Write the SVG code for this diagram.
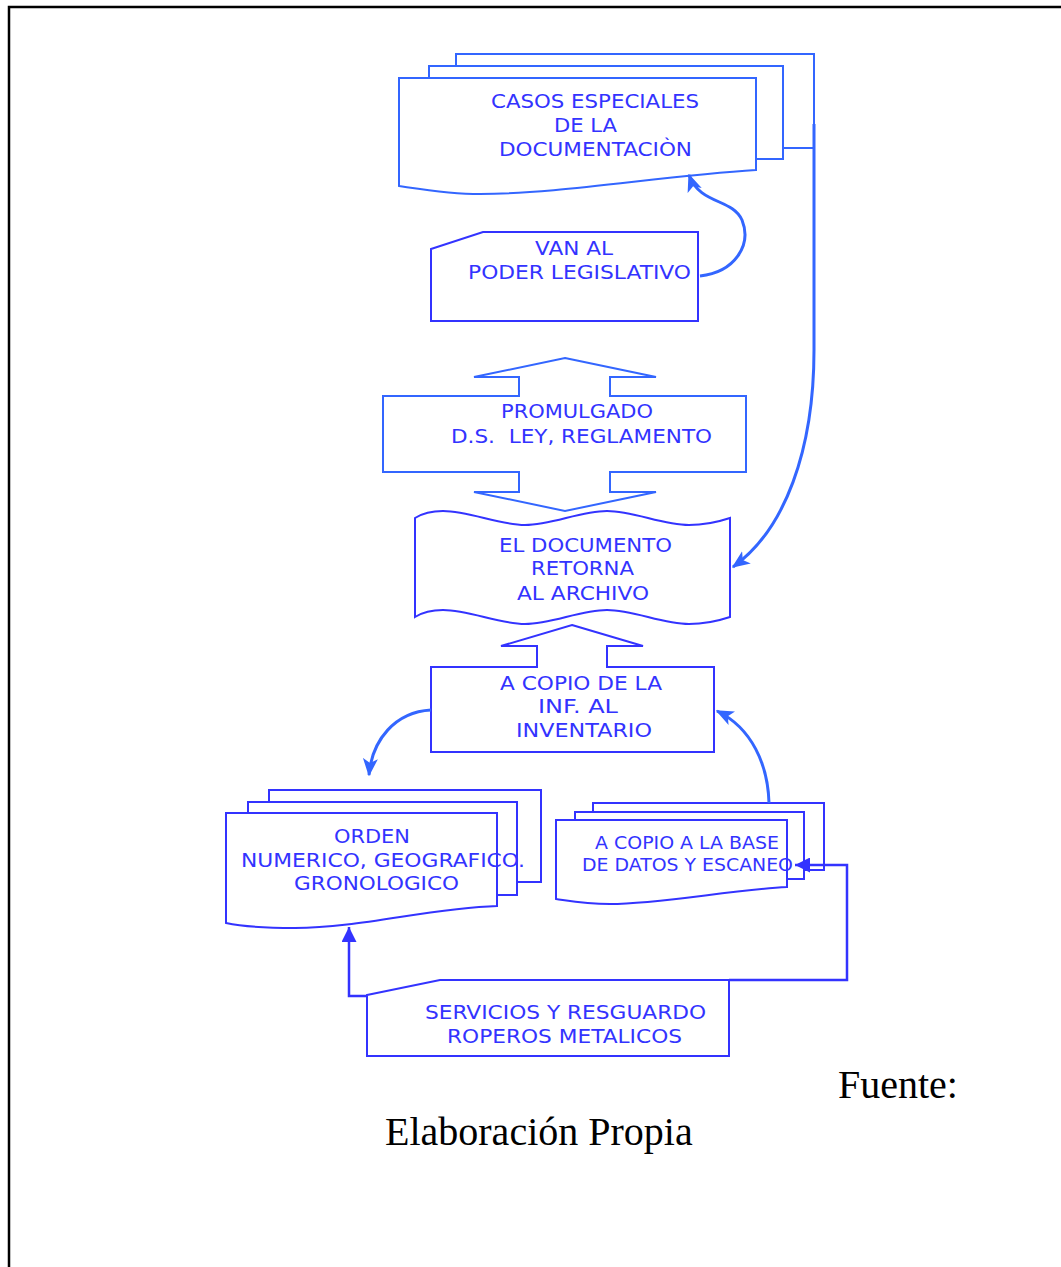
<svg xmlns="http://www.w3.org/2000/svg" width="1061" height="1267" viewBox="0 0 1061 1267">
  <style>
    .shape { fill: #ffffff; stroke: #3333ff; stroke-width: 2; stroke-linejoin: miter; }
    .shape2 { fill: #ffffff; stroke: #3366ff; stroke-width: 2; }
    .lbl { font-family: "DejaVu Sans", Verdana, sans-serif; font-size: 20px; fill: #3333ff; }
    .sm { font-size: 17px; }
    .curve { fill: none; stroke: #3366ff; stroke-width: 3; }
    .elbow { fill: none; stroke: #3333ff; stroke-width: 2.5; }
    .note { font-family: "Liberation Serif", "Times New Roman", serif; font-size: 40px; fill: #000000; }
  </style>
  <defs>
    <marker id="stealth" viewBox="0 0 12 10" refX="11" refY="5" markerWidth="6" markerHeight="5.5" orient="auto" markerUnits="strokeWidth">
      <path d="M0,0 L12,5 L0,10 L3,5 Z" fill="#3366ff"/>
    </marker>
    <marker id="tri" viewBox="0 0 10 10" refX="10" refY="5" markerWidth="6" markerHeight="6" orient="auto" markerUnits="strokeWidth">
      <path d="M0,0 L10,5 L0,10 Z" fill="#3333ff"/>
    </marker>
  </defs>

  <!-- page frame -->
  <rect x="9" y="7" width="1100" height="1300" fill="none" stroke="#000000" stroke-width="2.5"/>

  <!-- multi-document: special cases -->
  <g id="casos-especiales">
    <rect class="shape2" x="456" y="54" width="358" height="94"/>
    <rect class="shape2" x="429" y="66" width="354" height="93"/>
    <path class="shape2" d="M399,78 H756 V170 C 660,176 560,194 480,194 C 450,194 420,189 399,186 Z"/>
    <text class="lbl" x="491" y="108" textLength="208" lengthAdjust="spacingAndGlyphs">CASOS ESPECIALES</text>
    <text class="lbl" x="554" y="132" textLength="63" lengthAdjust="spacingAndGlyphs">DE LA</text>
    <text class="lbl" x="499" y="156" textLength="193" lengthAdjust="spacingAndGlyphs">DOCUMENTACIÒN</text>
  </g>

  <!-- card: legislative branch -->
  <g id="poder-legislativo">
    <path class="shape" d="M431,249 L483,232 H698 V321 H431 Z"/>
    <text class="lbl" x="535" y="255" textLength="78" lengthAdjust="spacingAndGlyphs">VAN AL</text>
    <text class="lbl" x="468" y="279" textLength="223" lengthAdjust="spacingAndGlyphs">PODER LEGISLATIVO</text>
  </g>

  <!-- up/down arrow box: promulgation -->
  <g id="promulgado">
    <path class="shape2" d="M565,358 L656,377 H610 V396 H746 V472 H610 V492 H656 L565,511 L474,492 H519 V472 H383 V396 H519 V377 H474 Z"/>
    <text class="lbl" x="501" y="418" textLength="152" lengthAdjust="spacingAndGlyphs">PROMULGADO</text>
    <text class="lbl" x="451" y="443" textLength="261" lengthAdjust="spacingAndGlyphs" xml:space="preserve">D.S.  LEY, REGLAMENTO</text>
  </g>

  <!-- punched tape: document returns -->
  <g id="retorna-archivo">
    <path class="shape" d="M415,518 C 423,513 433,511 443,511 C 470,511 498,525 525,525 C 552,525 580,511 607,511 C 634,511 662,525 689,525 C 703,525 718,522 730,518 V617 C 718,621 703,624 689,624 C 662,624 634,610 607,610 C 580,610 552,624 525,624 C 498,624 470,610 443,610 C 433,610 423,612 415,617 Z"/>
    <text class="lbl" x="499" y="552" textLength="173" lengthAdjust="spacingAndGlyphs">EL DOCUMENTO</text>
    <text class="lbl" x="531" y="575" textLength="103" lengthAdjust="spacingAndGlyphs">RETORNA</text>
    <text class="lbl" x="517" y="600" textLength="132" lengthAdjust="spacingAndGlyphs">AL ARCHIVO</text>
  </g>

  <!-- up arrow box: inventory copy -->
  <g id="copio-inventario">
    <path class="shape" d="M572,625 L643,646 H607 V667 H714 V752 H431 V667 H537 V646 H501 Z"/>
    <text class="lbl" x="500" y="690" textLength="162" lengthAdjust="spacingAndGlyphs">A COPIO DE LA</text>
    <text class="lbl" x="538" y="713" textLength="80" lengthAdjust="spacingAndGlyphs">INF. AL</text>
    <text class="lbl" x="516" y="737" textLength="136" lengthAdjust="spacingAndGlyphs">INVENTARIO</text>
  </g>

  <!-- multi-document: ordering -->
  <g id="orden">
    <rect class="shape" x="269" y="790" width="272" height="92"/>
    <rect class="shape" x="248" y="802" width="269" height="93"/>
    <path class="shape" d="M226,813 H497 V906 C 430,908 360,928 295,928 C 265,928 240,926 226,923 Z"/>
    <text class="lbl" x="334" y="843" textLength="76" lengthAdjust="spacingAndGlyphs">ORDEN</text>
    <text class="lbl" x="241" y="867" textLength="284" lengthAdjust="spacingAndGlyphs">NUMERICO, GEOGRAFICO.</text>
    <text class="lbl" x="294" y="890" textLength="165" lengthAdjust="spacingAndGlyphs">GRONOLOGICO</text>
  </g>

  <!-- multi-document: database and scanning -->
  <g id="base-datos">
    <rect class="shape" x="593" y="803" width="231" height="67"/>
    <rect class="shape" x="575" y="812" width="229" height="67"/>
    <path class="shape" d="M556,820 H787 V887 C 730,890 660,904 610,904 C 585,904 570,901 556,899 Z"/>
    <text class="lbl sm" x="595" y="849" textLength="184" lengthAdjust="spacingAndGlyphs">A COPIO A LA BASE</text>
    <text class="lbl sm" x="582" y="871" textLength="211" lengthAdjust="spacingAndGlyphs">DE DATOS Y ESCANEO</text>
  </g>

  <!-- card: storage -->
  <g id="servicios-resguardo">
    <path class="shape" d="M367,995 L440,980 H729 V1056 H367 Z"/>
    <text class="lbl" x="425" y="1019" textLength="281" lengthAdjust="spacingAndGlyphs">SERVICIOS Y RESGUARDO</text>
    <text class="lbl" x="447" y="1043" textLength="235" lengthAdjust="spacingAndGlyphs">ROPEROS METALICOS</text>
  </g>

  <!-- connectors -->
  <g id="connectors">
    <path class="curve" d="M700,276 C 735,272 752,245 742,220 C 732,198 700,205 689,175" marker-end="url(#stealth)"/>
    <path class="curve" d="M814,124 V350 C 814,450 785,530 733,567" marker-end="url(#stealth)"/>
    <path class="curve" d="M431,710 C 395,712 372,740 369,775" marker-end="url(#stealth)"/>
    <path class="curve" d="M769,803 C 768,765 752,728 717,711" marker-end="url(#stealth)"/>
    <path class="elbow" d="M367,996 H349 V927" marker-end="url(#tri)"/>
    <path class="elbow" d="M729,980 H847 V865 H795" marker-end="url(#tri)"/>
  </g>

  <!-- source note -->
  <text class="note" x="838" y="1098">Fuente:</text>
  <text class="note" x="385" y="1145">Elaboración Propia</text>
</svg>
